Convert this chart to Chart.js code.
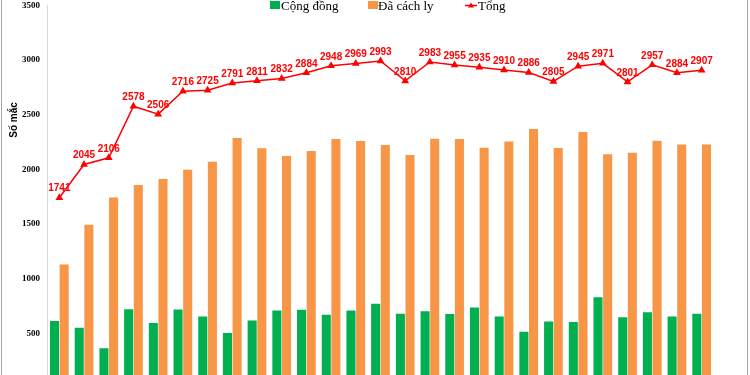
<!DOCTYPE html>
<html>
<head>
<meta charset="utf-8">
<script src="https://cdn.jsdelivr.net/npm/chart.js@4"></script>
<style>
  html, body { margin: 0; padding: 0; background: #fff; overflow: hidden; }
  #wrap { position: relative; width: 750px; height: 375px; overflow: hidden; }
  #wrap canvas { position: absolute; left: 0; top: 0; }
</style>
</head>
<body>
<div id="wrap"><canvas id="chart" width="750" height="400"></canvas></div>
<script>
const categories = ['1', '2', '3', '4', '5', '6', '7', '8', '9', '10', '11', '12', '13', '14',
  '15', '16', '17', '18', '19', '20', '21', '22', '23', '24', '25', '26', '27'];

const congDong = [612, 552, 363, 721, 594, 719, 655, 503, 618, 709, 716, 670, 709, 770,
  679, 703, 676, 737, 655, 515, 609, 603, 831, 648, 694, 655, 679];

const daCachLy = [1129, 1493, 1743, 1857, 1912, 1997, 2070, 2288, 2193, 2123, 2168, 2278, 2260, 2223,
  2131, 2280, 2279, 2198, 2255, 2371, 2196, 2342, 2140, 2153, 2263, 2229, 2228];

const tong = [1741, 2045, 2106, 2578, 2506, 2716, 2725, 2791, 2811, 2832, 2884, 2948, 2969, 2993,
  2810, 2983, 2955, 2935, 2910, 2886, 2805, 2945, 2971, 2801, 2957, 2884, 2907];

const yTicks = [0, 500, 1000, 1500, 2000, 2500, 3000, 3500];

const GREEN = '#00b050';
const ORANGE = '#f79646';
const RED = '#ff0000';

// point labels above the total line
const lineLabels = {
  id: 'lineLabels',
  afterDatasetsDraw(chart) {
    const ctx = chart.ctx;
    const meta = chart.getDatasetMeta(2);
    ctx.save();
    ctx.font = 'bold 10px "Liberation Sans", Arial, sans-serif';
    ctx.fillStyle = RED;
    ctx.textAlign = 'center';
    ctx.textBaseline = 'middle';
    meta.data.forEach((pt, i) => {
      ctx.fillText(tong[i], pt.x, pt.y - 9);
    });
    ctx.restore();
  }
};

// legend at the top, y title and frame lines
const decor = {
  id: 'decor',
  afterDraw(chart) {
    const ctx = chart.ctx;
    ctx.save();

    ctx.strokeStyle = '#a6a6a6';
    ctx.lineWidth = 1;
    ctx.beginPath();
    ctx.moveTo(1.5, 0); ctx.lineTo(1.5, 400);
    ctx.moveTo(747.5, 0); ctx.lineTo(747.5, 400);
    ctx.stroke();

    ctx.font = '13px "Liberation Serif", "Times New Roman", serif';
    ctx.textBaseline = 'alphabetic';
    ctx.textAlign = 'left';

    ctx.fillStyle = GREEN;
    ctx.fillRect(270, 1, 10, 8);
    ctx.fillStyle = '#000';
    ctx.fillText('Cộng đồng', 281, 10);

    ctx.fillStyle = ORANGE;
    ctx.fillRect(368, 1, 10, 8);
    ctx.fillStyle = '#000';
    ctx.fillText('Đã cách ly', 378, 10);

    ctx.strokeStyle = RED;
    ctx.lineWidth = 1.5;
    ctx.beginPath();
    ctx.moveTo(465, 5.5); ctx.lineTo(477, 5.5);
    ctx.stroke();
    ctx.fillStyle = RED;
    ctx.beginPath();
    ctx.moveTo(471, 2.5); ctx.lineTo(474, 7.5); ctx.lineTo(468, 7.5);
    ctx.closePath();
    ctx.fill();
    ctx.fillStyle = '#000';
    ctx.fillText('Tổng', 478, 10);

    ctx.translate(14, 120);
    ctx.rotate(-Math.PI / 2);
    ctx.font = 'bold 10px "Liberation Sans", Arial, sans-serif';
    ctx.textAlign = 'center';
    ctx.textBaseline = 'middle';
    ctx.fillText('Số mắc', 0, 0);
    ctx.restore();
  }
};

new Chart(document.getElementById('chart'), {
  type: 'bar',
  data: {
    labels: categories,
    datasets: [
      {
        label: 'Cộng đồng',
        data: congDong,
        backgroundColor: GREEN,
        categoryPercentage: 0.78,
        barPercentage: 0.94,
        order: 2
      },
      {
        label: 'Đã cách ly',
        data: daCachLy,
        backgroundColor: ORANGE,
        categoryPercentage: 0.78,
        barPercentage: 0.94,
        order: 2
      },
      {
        type: 'line',
        label: 'Tổng',
        data: tong,
        borderColor: RED,
        backgroundColor: RED,
        borderWidth: 1.5,
        pointStyle: 'triangle',
        pointRadius: 3,
        tension: 0,
        order: 1
      }
    ]
  },
  options: {
    responsive: false,
    animation: false,
    layout: { padding: { top: 4, right: 36, bottom: 12, left: 0 } },
    plugins: {
      legend: { display: false },
      tooltip: { enabled: false }
    },
    scales: {
      x: { display: false },
      y: {
        min: 0,
        max: 3500,
        afterFit: s => {
          s.width = 47;
          s.paddingTop = 0;
          s.paddingBottom = 0;
        },
        afterBuildTicks: s => { s.ticks = yTicks.map(v => ({ value: v })); },
        grid: { drawOnChartArea: false, drawTicks: false },
        border: { display: true, color: '#d9d9d9', width: 1 },
        ticks: {
          padding: 7,
          color: '#000',
          callback: v => String(v),
          font: { family: '"Liberation Serif", "Times New Roman", serif', size: 9, weight: 'bold' }
        }
      }
    }
  },
  plugins: [lineLabels, decor]
});
</script>
</body>
</html>
